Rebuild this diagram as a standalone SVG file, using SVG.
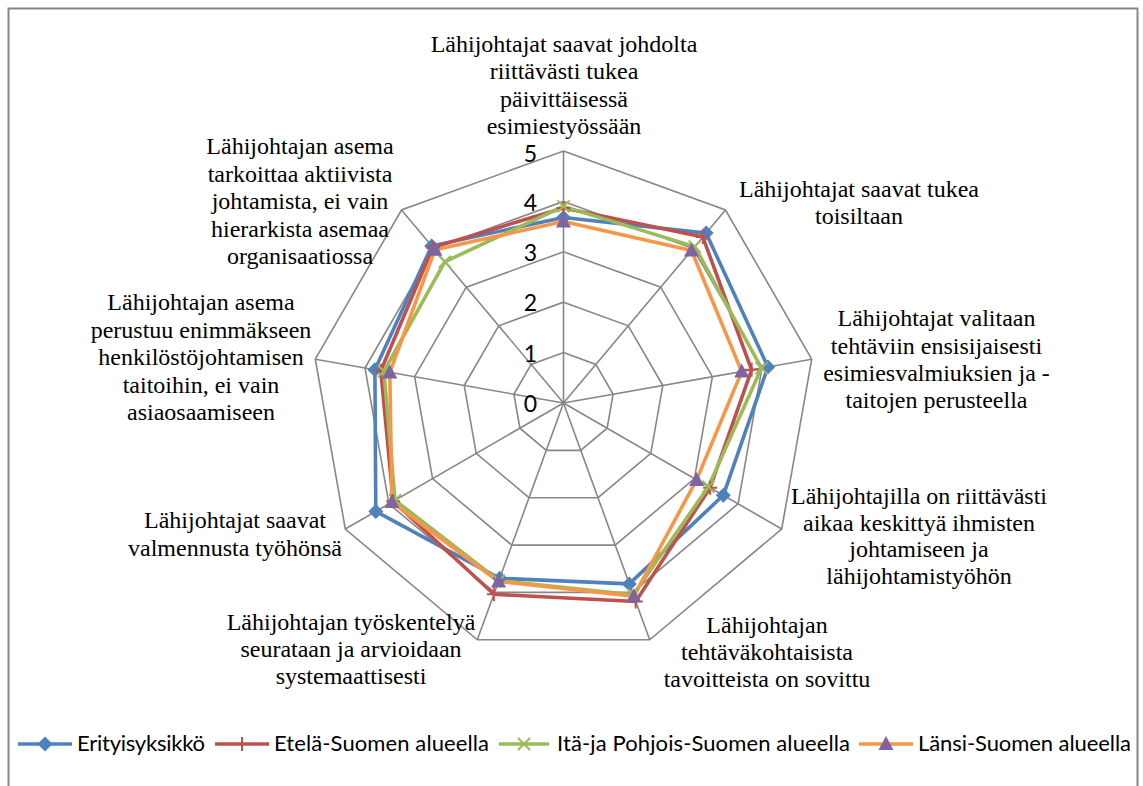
<svg xmlns="http://www.w3.org/2000/svg" xmlns:xlink="http://www.w3.org/1999/xlink" width="1143" height="786" viewBox="0 0 1143 786">
<style>
.grid{fill:none;stroke:#878787;stroke-width:1.6}
.spoke{stroke:#878787;stroke-width:1.6}
.lab{font-family:"Liberation Serif","Times New Roman",serif;font-size:24px;fill:#000;text-anchor:middle}
.tick{font-family:Lato,"Liberation Sans",sans-serif;font-size:23px;fill:#000;text-anchor:end}
.leg{font-family:Lato,"Liberation Sans",sans-serif;font-size:22px;fill:#000}
.ser{fill:none;stroke-width:3.6;stroke-linejoin:round}
</style>
<defs>
<path id="dia" d="M0,-7.5 L7.5,0 L0,7.5 L-7.5,0Z" fill="#4F81BD"/>
<path id="plus" d="M-7,0 H7 M0,-7 V7" stroke="#C0504D" stroke-width="2" fill="none"/>
<path id="cross" d="M-6,-6 L6,6 M-6,6 L6,-6" stroke="#9BBB59" stroke-width="2" fill="none"/>
<path id="tri" d="M0,-8 L7.5,6 L-7.5,6Z" fill="#8064A2"/>
</defs>
<rect x="8.5" y="8.5" width="1129" height="800" fill="#fff" stroke="#878787" stroke-width="2"/>
<g id="grid">
<polygon class="grid" points="563.5,352.6 595.9,364.4 613.1,394.25 607.1,428.2 580.7,450.4 546.3,450.4 519.9,428.2 513.9,394.25 531.1,364.4"/>
<polygon class="grid" points="563.5,302.2 628.3,325.8 662.8,385.5 650.8,453.4 598,497.7 529,497.7 476.2,453.4 464.2,385.5 498.7,325.8"/>
<polygon class="grid" points="563.5,251.8 660.7,287.2 712.4,376.7 694.4,478.6 615.2,545.1 511.8,545.1 432.6,478.6 414.6,376.7 466.3,287.2"/>
<polygon class="grid" points="563.5,201.4 693.1,248.6 762,368 738.1,503.8 632.5,592.4 494.5,592.4 388.9,503.8 365,368 433.9,248.6"/>
<polygon class="grid" points="563.5,151 725.5,210 811.7,359.2 781.7,529 649.7,639.8 477.3,639.8 345.3,529 315.3,359.2 401.5,210"/>
<g class="spoke">
<line x1="563.5" y1="403" x2="563.5" y2="151"/>
<line x1="563.5" y1="403" x2="725.5" y2="210"/>
<line x1="563.5" y1="403" x2="811.7" y2="359.2"/>
<line x1="563.5" y1="403" x2="781.7" y2="529"/>
<line x1="563.5" y1="403" x2="649.7" y2="639.8"/>
<line x1="563.5" y1="403" x2="477.3" y2="639.8"/>
<line x1="563.5" y1="403" x2="345.3" y2="529"/>
<line x1="563.5" y1="403" x2="315.3" y2="359.2"/>
<line x1="563.5" y1="403" x2="401.5" y2="210"/>
</g>
</g>
<g id="ticks">
<text class="tick" x="537" y="162">5</text>
<text class="tick" x="537" y="211">4</text>
<text class="tick" x="537" y="261">3</text>
<text class="tick" x="537" y="311">2</text>
<text class="tick" x="537" y="362">1</text>
<text class="tick" x="537" y="412">0</text>
</g>
<g id="connectors">
<polyline class="ser" stroke="#4F81BD" points="563.5,217.5 706.1,233.1 767.9,367 723.3,495.3 629.3,583.9 499.7,578.3 375.8,511.4 374.9,369.7 431.7,245.9 563.5,217.5"/>
<polyline class="ser" stroke="#C0504D" points="563.5,208 702.8,237 751.6,369.8 710.1,487.7 635.7,601.5 493.9,594.3 393.2,501.3 380.8,370.8 432.9,247.4 563.5,208"/>
<polyline class="ser" stroke="#9BBB59" points="563.5,206.4 694.7,246.6 761.5,368.1 708.4,486.7 633.3,594.8 498.9,580.6 395.1,500.3 383.9,371.3 444.9,261.7 563.5,206.4"/>
<polyline class="ser" stroke="#F79646" points="563.5,221.6 691.5,250.5 741.7,371.6 696.6,479.9 633.8,596.2 498.5,581.5 391.9,502.1 389.8,372.4 434.9,249.7 563.5,221.6"/>
</g>
<g id="markers">
<use xlink:href="#dia" x="563.5" y="217.5"/><use xlink:href="#dia" x="706.1" y="233.1"/><use xlink:href="#dia" x="767.9" y="367"/><use xlink:href="#dia" x="723.3" y="495.3"/><use xlink:href="#dia" x="629.3" y="583.9"/><use xlink:href="#dia" x="499.7" y="578.3"/><use xlink:href="#dia" x="375.8" y="511.4"/><use xlink:href="#dia" x="374.9" y="369.7"/><use xlink:href="#dia" x="431.7" y="245.9"/>
<use xlink:href="#plus" x="563.5" y="208"/><use xlink:href="#plus" x="702.8" y="237"/><use xlink:href="#plus" x="751.6" y="369.8"/><use xlink:href="#plus" x="710.1" y="487.7"/><use xlink:href="#plus" x="635.7" y="601.5"/><use xlink:href="#plus" x="493.9" y="594.3"/><use xlink:href="#plus" x="393.2" y="501.3"/><use xlink:href="#plus" x="380.8" y="370.8"/><use xlink:href="#plus" x="432.9" y="247.4"/>
<use xlink:href="#cross" x="563.5" y="206.4"/><use xlink:href="#cross" x="694.7" y="246.6"/><use xlink:href="#cross" x="761.5" y="368.1"/><use xlink:href="#cross" x="708.4" y="486.7"/><use xlink:href="#cross" x="633.3" y="594.8"/><use xlink:href="#cross" x="498.9" y="580.6"/><use xlink:href="#cross" x="395.1" y="500.3"/><use xlink:href="#cross" x="383.9" y="371.3"/><use xlink:href="#cross" x="444.9" y="261.7"/>
<use xlink:href="#tri" x="563.5" y="221.6"/><use xlink:href="#tri" x="691.5" y="250.5"/><use xlink:href="#tri" x="741.7" y="371.6"/><use xlink:href="#tri" x="696.6" y="479.9"/><use xlink:href="#tri" x="633.8" y="596.2"/><use xlink:href="#tri" x="498.5" y="581.5"/><use xlink:href="#tri" x="391.9" y="502.1"/><use xlink:href="#tri" x="389.8" y="372.4"/><use xlink:href="#tri" x="434.9" y="249.7"/>
</g>
<g id="label-0"><text class="lab" x="564" y="51.5">Lähijohtajat saavat johdolta</text><text class="lab" x="564" y="79">riittävästi tukea</text><text class="lab" x="564" y="106.5">päivittäisessä</text><text class="lab" x="564" y="134">esimiestyössään</text></g>
<g id="label-1"><text class="lab" x="859" y="196.5">Lähijohtajat saavat tukea</text><text class="lab" x="859" y="224">toisiltaan</text></g>
<g id="label-2"><text class="lab" x="936.5" y="326">Lähijohtajat valitaan</text><text class="lab" x="936.5" y="353.5">tehtäviin ensisijaisesti</text><text class="lab" x="936.5" y="381">esimiesvalmiuksien ja -</text><text class="lab" x="936.5" y="408">taitojen perusteella</text></g>
<g id="label-3"><text class="lab" x="919" y="503.5">Lähijohtajilla on riittävästi</text><text class="lab" x="919" y="530.5">aikaa keskittyä ihmisten</text><text class="lab" x="919" y="557">johtamiseen ja</text><text class="lab" x="919" y="584">lähijohtamistyöhön</text></g>
<g id="label-4"><text class="lab" x="767" y="633">Lähijohtajan</text><text class="lab" x="767" y="660">tehtäväkohtaisista</text><text class="lab" x="767" y="687">tavoitteista on sovittu</text></g>
<g id="label-5"><text class="lab" x="351" y="630">Lähijohtajan työskentelyä</text><text class="lab" x="351" y="657">seurataan ja arvioidaan</text><text class="lab" x="351" y="683.5">systemaattisesti</text></g>
<g id="label-6"><text class="lab" x="235" y="528">Lähijohtajat saavat</text><text class="lab" x="235" y="556">valmennusta työhönsä</text></g>
<g id="label-7"><text class="lab" x="201" y="310">Lähijohtajan asema</text><text class="lab" x="201" y="337.5">perustuu enimmäkseen</text><text class="lab" x="201" y="365">henkilöstöjohtamisen</text><text class="lab" x="201" y="392.5">taitoihin, ei vain</text><text class="lab" x="201" y="420">asiaosaamiseen</text></g>
<g id="label-8"><text class="lab" x="300" y="154">Lähijohtajan asema</text><text class="lab" x="300" y="181.5">tarkoittaa aktiivista</text><text class="lab" x="300" y="209">johtamista, ei vain</text><text class="lab" x="300" y="236.5">hierarkista asemaa</text><text class="lab" x="300" y="264">organisaatiossa</text></g>
<g id="legend">
<line x1="18" y1="744" x2="72" y2="744" stroke="#4F81BD" stroke-width="3.6"/><use xlink:href="#dia" x="45" y="744"/>
<text class="leg" x="77" y="751" textLength="128">Erityisyksikkö</text>
<line x1="215" y1="744" x2="269" y2="744" stroke="#C0504D" stroke-width="3.6"/><use xlink:href="#plus" x="242" y="744"/>
<text class="leg" x="274" y="751" textLength="215">Etelä-Suomen alueella</text>
<line x1="499" y1="744" x2="549" y2="744" stroke="#9BBB59" stroke-width="3.6"/><use xlink:href="#cross" x="524" y="744"/>
<text class="leg" x="557" y="751" textLength="293">Itä-ja Pohjois-Suomen alueella</text>
<line x1="859" y1="744" x2="913" y2="744" stroke="#F79646" stroke-width="3.6"/><use xlink:href="#tri" x="886" y="744"/>
<text class="leg" x="918" y="751" textLength="213">Länsi-Suomen alueella</text>
</g>
</svg>
